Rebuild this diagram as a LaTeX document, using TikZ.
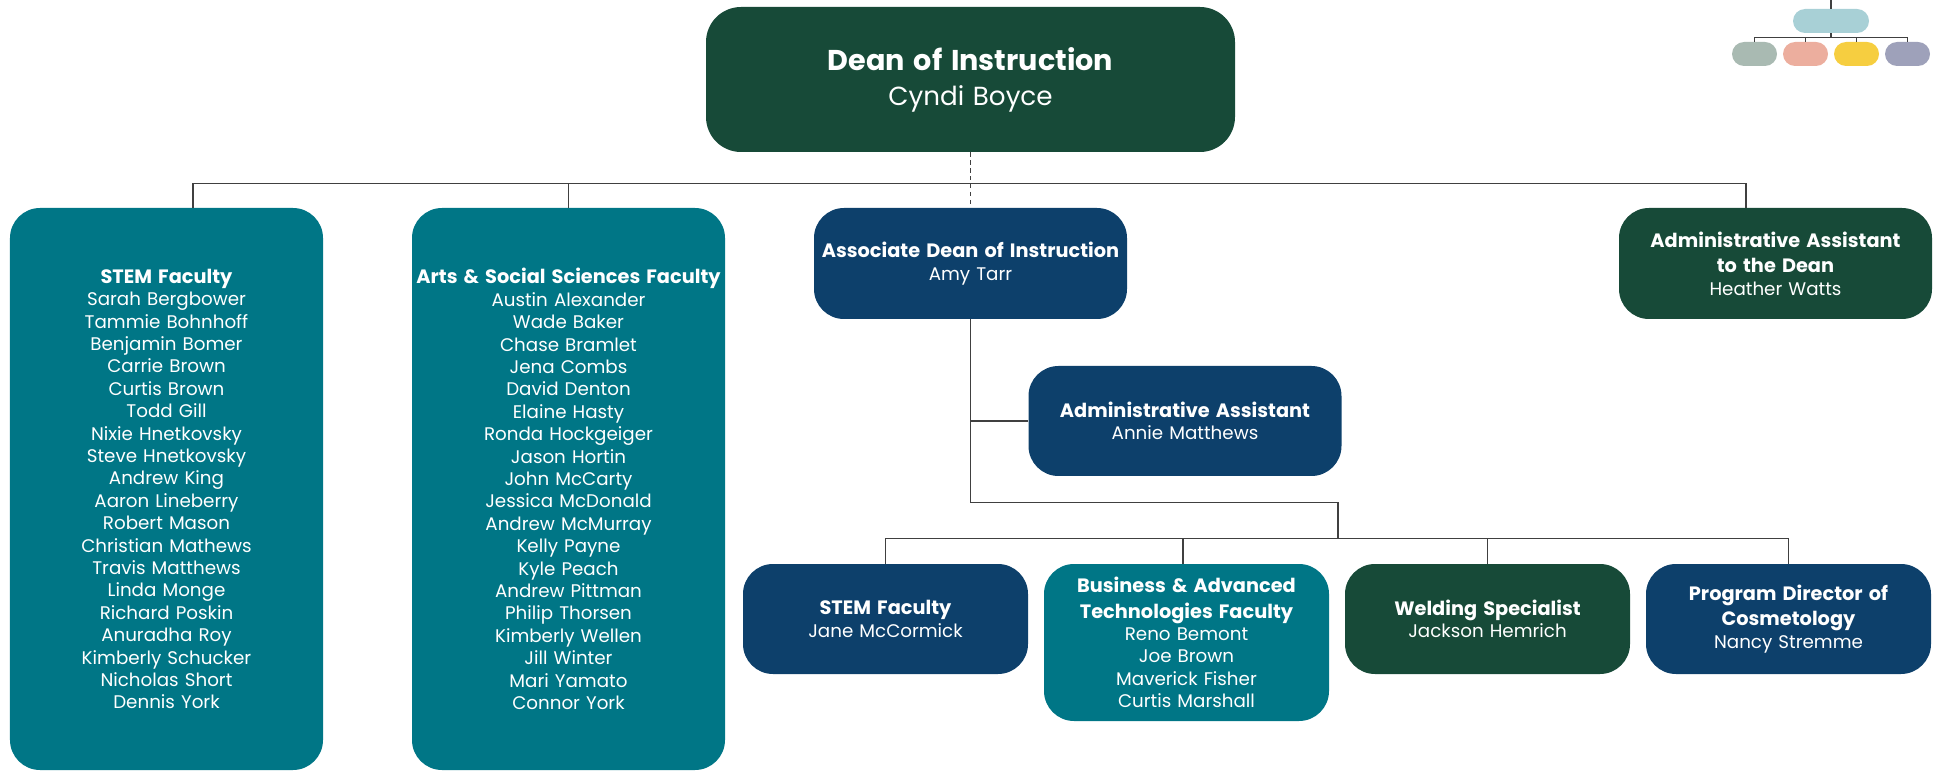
\documentclass[tikz,border=0pt]{standalone}
\usepackage{fontspec}
\setmainfont{Poppins}
\usepackage{tikz}
\usepackage{xcolor}
\usetikzlibrary{positioning}
\definecolor{deangreen}{RGB}{23,74,56}
\definecolor{facteal}{RGB}{0,118,134}
\definecolor{leadnavy}{RGB}{13,64,107}
\definecolor{linkgray}{RGB}{64,64,64}
\definecolor{keytop}{RGB}{168,208,214}
\definecolor{keysage}{RGB}{169,186,178}
\definecolor{keysalmon}{RGB}{236,174,158}
\definecolor{keyyellow}{RGB}{246,206,64}
\definecolor{keylavender}{RGB}{158,161,186}
\newcommand{\namesize}{\fontsize{10.4}{12.75}\selectfont}
\newcommand{\titlesize}{\fontsize{11}{14.5}\selectfont\bfseries}
\tikzstyle{orgbox} = [rectangle, rounded corners=0.6cm, text=white, align=center, inner sep=0pt, font=\namesize]
\tikzstyle{deanbox} = [orgbox, fill=deangreen, text width=10.58cm, minimum height=2.9cm, rounded corners=0.7cm, font=\fontsize{14.9}{20}\selectfont]
\tikzstyle{facultycol} = [orgbox, fill=facteal, text width=6.26cm, minimum height=11.24cm]
\tikzstyle{widebox} = [orgbox, text width=6.26cm, minimum height=2.22cm]
\tikzstyle{unitbox} = [orgbox, text width=5.7cm, minimum height=2.2cm]
\tikzstyle{link} = [draw=linkgray, line width=0.8pt]
\tikzstyle{dashlink} = [link, dash pattern=on 2.5pt off 2pt]
\tikzstyle{keybox} = [rectangle, rounded corners=0.24cm, minimum width=0.9cm, minimum height=0.48cm, inner sep=0pt]

\begin{document}
\begin{tikzpicture}[node distance=1cm]
        \useasboundingbox (0,0) rectangle (38.84,-15.42);

        \node (dean) [deanbox] at (19.41,-1.59) {{\fontsize{16.3}{20}\selectfont\bfseries Dean of Instruction\par}Cyndi Boyce};
        \node (stemfac) [facultycol, below of=dean, xshift=-16.08cm, yshift=-7.19cm] {{\titlesize STEM Faculty\par}Sarah Bergbower\\Tammie Bohnhoff\\Benjamin Bomer\\Carrie Brown\\Curtis Brown\\Todd Gill\\Nixie Hnetkovsky\\Steve Hnetkovsky\\Andrew King\\Aaron Lineberry\\Robert Mason\\Christian Mathews\\Travis Matthews\\Linda Monge\\Richard Poskin\\Anuradha Roy\\Kimberly Schucker\\Nicholas Short\\Dennis York};
        \node (arts) [facultycol, right of=stemfac, xshift=7.04cm] {{\titlesize Arts \& Social Sciences Faculty\par}Austin Alexander\\Wade Baker\\Chase Bramlet\\Jena Combs\\David Denton\\Elaine Hasty\\Ronda Hockgeiger\\Jason Hortin\\John McCarty\\Jessica McDonald\\Andrew McMurray\\Kelly Payne\\Kyle Peach\\Andrew Pittman\\Philip Thorsen\\Kimberly Wellen\\Jill Winter\\Mari Yamato\\Connor York};
        \node (assoc) [widebox, fill=leadnavy, below of=dean, yshift=-2.68cm] {{\titlesize Associate Dean of Instruction\par}Amy Tarr};
        \node (deanasst) [widebox, fill=deangreen, right of=assoc, xshift=15.10cm] {{\titlesize Administrative Assistant\\to the Dean\par}Heather Watts};
        \node (adminasst) [widebox, fill=leadnavy, minimum height=2.2cm, below of=assoc, xshift=4.29cm, yshift=-2.15cm] {{\titlesize Administrative Assistant\par}Annie Matthews};
        \node (stemlead) [unitbox, fill=leadnavy, below of=assoc, xshift=-1.70cm, yshift=-6.11cm] {{\titlesize STEM Faculty\par}Jane McCormick};
        \node (business) [unitbox, fill=facteal, minimum height=3.14cm, right of=stemlead, xshift=5.02cm, yshift=-0.47cm] {{\titlesize Business \& Advanced\\Technologies Faculty\par}Reno Bemont\\Joe Brown\\Maverick Fisher\\Curtis Marshall};
        \node (welding) [unitbox, fill=deangreen, right of=business, xshift=5.02cm, yshift=0.47cm] {{\titlesize Welding Specialist\par}Jackson Hemrich};
        \node (cosmo) [unitbox, fill=leadnavy, right of=welding, xshift=5.02cm] {{\titlesize Program Director of\\Cosmetology\par}Nancy Stremme};

        % key in the corner
        \node (keyhead) [keybox, fill=keytop, minimum width=1.52cm] at (36.62,-0.42) {};
        \node (keya) [keybox, fill=keysage] at (35.09,-1.08) {};
        \node (keyb) [keybox, fill=keysalmon, right of=keya, xshift=0.02cm] {};
        \node (keyc) [keybox, fill=keyyellow, right of=keyb, xshift=0.02cm] {};
        \node (keyd) [keybox, fill=keylavender, right of=keyc, xshift=0.02cm] {};
        \coordinate (keybus) at ([yshift=-0.08cm]keyhead.south);

        \coordinate (topbus) at ([yshift=-0.62cm]dean.south);
        \coordinate (jog) at ([yshift=-3.66cm]assoc.south);
        \coordinate (lowbus) at ([yshift=0.5cm]stemlead.north);

        \draw [dashlink] (dean) -- (assoc);
        \draw [link] ([xshift=0.53cm]stemfac.north) |- (topbus) -| ([xshift=-0.59cm]deanasst.north);
        \draw [link] (arts.north) -- (arts.north |- topbus);
        \draw [link] (assoc.south) -- (jog) -| ([xshift=-0.08cm]adminasst.east |- lowbus);
        \draw [link] (assoc.south |- adminasst.west) -- (adminasst.west);
        \draw [link] (stemlead.north) -- (lowbus) -| (cosmo.north);
        \draw [link] ([xshift=-0.07cm]business.north) -- ([xshift=-0.07cm]business.north |- lowbus);
        \draw [link] (welding.north) -- (welding.north |- lowbus);
        \draw [link, line width=0.6pt] (keyhead.north) -- ++(0,0.18);
        \draw [link, line width=0.6pt] (keyhead.south) -- (keybus);
        \draw [link, line width=0.6pt] (keya.north) |- (keybus) -| (keyd.north);
        \draw [link, line width=0.6pt] (keyb.north) -- (keyb.north |- keybus);
        \draw [link, line width=0.6pt] (keyc.north) -- (keyc.north |- keybus);

    \end{tikzpicture}
\end{document}
